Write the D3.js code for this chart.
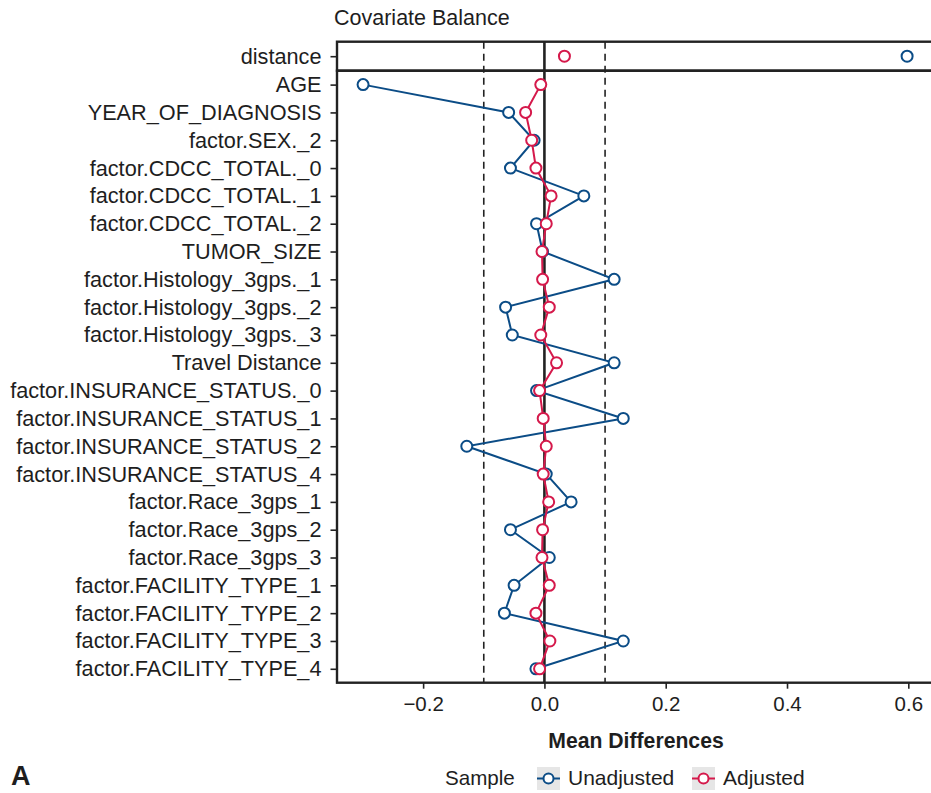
<!DOCTYPE html>
<html>
<head>
<meta charset="utf-8">
<script src="https://cdn.jsdelivr.net/npm/d3@7"></script>
<style>
  html, body { margin: 0; padding: 0; background: #fff; overflow: hidden; }
  text { font-family: "Liberation Sans", Arial, sans-serif; fill: #1e1e1e; }
</style>
</head>
<body>
<div id="chart"></div>
<script>
// covariate balance (love plot)

const topVar = ['distance'];
const topUnadjusted = [0.598];
const topAdjusted = [0.033];

const covariates = [
    'AGE',
    'YEAR_OF_DIAGNOSIS',
    'factor.SEX._2',
    'factor.CDCC_TOTAL._0',
    'factor.CDCC_TOTAL._1',
    'factor.CDCC_TOTAL._2',
    'TUMOR_SIZE',
    'factor.Histology_3gps._1',
    'factor.Histology_3gps._2',
    'factor.Histology_3gps._3',
    'Travel Distance',
    'factor.INSURANCE_STATUS._0',
    'factor.INSURANCE_STATUS_1',
    'factor.INSURANCE_STATUS_2',
    'factor.INSURANCE_STATUS_4',
    'factor.Race_3gps_1',
    'factor.Race_3gps_2',
    'factor.Race_3gps_3',
    'factor.FACILITY_TYPE_1',
    'factor.FACILITY_TYPE_2',
    'factor.FACILITY_TYPE_3',
    'factor.FACILITY_TYPE_4'
];

const unadjusted = [
    -0.299, -0.059, -0.017, -0.056, 0.065, -0.013, -0.003,
    0.115, -0.064, -0.053, 0.115, -0.013, 0.130, -0.128, 0.003,
    0.044, -0.056, 0.008, -0.050, -0.066, 0.130, -0.014
];

const adjusted = [
    -0.006, -0.031, -0.021, -0.014, 0.011, 0.003, -0.004,
    -0.003, 0.008, -0.006, 0.020, -0.008, -0.002, 0.003, -0.002,
    0.007, -0.003, -0.004, 0.008, -0.014, 0.009, -0.008
];

const xTicks = [-0.2, 0.0, 0.2, 0.4, 0.6];
const thresholds = [-0.1, 0.1];

const seriesNames = ['Unadjusted', 'Adjusted'];
const seriesColors = ['#0b4c86', '#d5194b'];

const width = 931, height = 793;
const left = 337, right = 935;
const topPanel = [41.7, 70.7];
const lowPanel = [70.7, 682.7];
const border = '#222';

const svg = d3.select('#chart')
    .append('svg')
    .attr('width', width)
    .attr('height', height);

svg.append('rect').attr('width', width).attr('height', height).attr('fill', '#fff');

const x = d3.scaleLinear()
    .domain([-0.342, 0.644])
    .range([left, right]);

const yTop = d3.scalePoint()
    .domain(topVar)
    .range(topPanel)
    .padding(0.5);

const y = d3.scalePoint()
    .domain(covariates)
    .range(lowPanel)
    .padding(0.5);

// title
svg.append('text')
    .attr('x', 334)
    .attr('y', 25)
    .attr('font-size', 21.5)
    .text('Covariate Balance');

// reference lines span both panels
const refs = svg.append('g');
refs.selectAll('line.thr')
    .data(thresholds)
    .join('line')
    .attr('class', 'thr')
    .attr('x1', d => x(d)).attr('x2', d => x(d))
    .attr('y1', topPanel[0]).attr('y2', lowPanel[1])
    .attr('stroke', '#222')
    .attr('stroke-width', 1.6)
    .attr('stroke-dasharray', '7,5');

refs.append('line')
    .attr('x1', x(0)).attr('x2', x(0))
    .attr('y1', topPanel[0]).attr('y2', lowPanel[1])
    .attr('stroke', '#222')
    .attr('stroke-width', 2.6);

// y axes
[yTop, y].forEach(scale => {
    const g = svg.append('g')
        .attr('transform', `translate(${left - 0.5},0)`)
        .call(d3.axisLeft(scale).tickSize(6).tickPadding(9));
    g.select('.domain').remove();
    g.selectAll('.tick line').attr('stroke', border).attr('stroke-width', 1.6);
    g.selectAll('.tick text')
        .attr('font-size', 21.7)
        .attr('font-family', '"Liberation Sans", Arial, sans-serif')
        .attr('fill', '#1e1e1e');
});

// x axis
const xg = svg.append('g')
    .attr('transform', `translate(0,${lowPanel[1]})`)
    .call(d3.axisBottom(x).tickValues(xTicks).tickSize(6).tickPadding(8)
        .tickFormat(d3.format('.1f')));
xg.select('.domain').remove();
xg.selectAll('.tick line').attr('stroke', border).attr('stroke-width', 1.6);
xg.selectAll('.tick text')
    .attr('font-size', 20.5)
    .attr('font-family', '"Liberation Sans", Arial, sans-serif')
    .attr('fill', '#1e1e1e');

// panel borders
[topPanel, lowPanel].forEach(p => {
    svg.append('rect')
        .attr('x', left)
        .attr('y', p[0])
        .attr('width', right - left + 20)
        .attr('height', p[1] - p[0])
        .attr('fill', 'none')
        .attr('stroke', border)
        .attr('stroke-width', 2.4);
});

// series
const lowSeries = [unadjusted, adjusted];
const topSeries = [topUnadjusted, topAdjusted];

const line = d3.line()
    .x(d => x(d.v))
    .y(d => y(d.name));

lowSeries.forEach((vals, i) => {
    const pts = covariates.map((name, j) => ({ name, v: vals[j] }));
    const g = svg.append('g');
    g.append('path')
        .datum(pts)
        .attr('d', line)
        .attr('fill', 'none')
        .attr('stroke', seriesColors[i])
        .attr('stroke-width', 2);
    g.selectAll('circle')
        .data(pts)
        .join('circle')
        .attr('cx', d => x(d.v))
        .attr('cy', d => y(d.name))
        .attr('r', 5.5)
        .attr('fill', '#fff')
        .attr('stroke', seriesColors[i])
        .attr('stroke-width', 2);
});

topSeries.forEach((vals, i) => {
    svg.append('g').selectAll('circle')
        .data(topVar.map((name, j) => ({ name, v: vals[j] })))
        .join('circle')
        .attr('cx', d => x(d.v))
        .attr('cy', d => yTop(d.name))
        .attr('r', 5.5)
        .attr('fill', '#fff')
        .attr('stroke', seriesColors[i])
        .attr('stroke-width', 2);
});

// x axis title
svg.append('text')
    .attr('x', (left + right) / 2)
    .attr('y', 748)
    .attr('text-anchor', 'middle')
    .attr('font-size', 21.2)
    .attr('font-weight', 'bold')
    .text('Mean Differences');

// panel tag
svg.append('text')
    .attr('x', 11)
    .attr('y', 785)
    .attr('font-size', 27)
    .attr('font-weight', 'bold')
    .text('A');

// legend
const legend = svg.append('g');
legend.append('text')
    .attr('x', 445)
    .attr('y', 785)
    .attr('font-size', 20.6)
    .text('Sample');

const keyX = [537, 692];
seriesNames.forEach((name, i) => {
    const k = legend.append('g').attr('transform', `translate(${keyX[i]},767)`);
    k.append('rect')
        .attr('width', 23).attr('height', 23)
        .attr('fill', '#e6e6e6');
    k.append('line')
        .attr('x1', 0).attr('x2', 23)
        .attr('y1', 11.5).attr('y2', 11.5)
        .attr('stroke', seriesColors[i])
        .attr('stroke-width', 2);
    k.append('circle')
        .attr('cx', 11.5).attr('cy', 11.5).attr('r', 5)
        .attr('fill', '#fff')
        .attr('stroke', seriesColors[i])
        .attr('stroke-width', 2);
    k.append('text')
        .attr('x', 31)
        .attr('y', 18)
        .attr('font-size', 21)
        .text(name);
});
</script>
</body>
</html>
